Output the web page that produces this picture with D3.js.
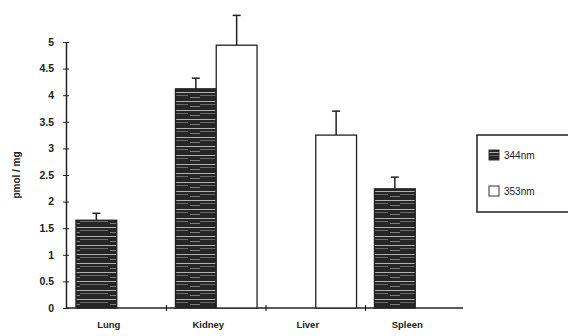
<!DOCTYPE html>
<html>
<head>
<meta charset="utf-8">
<script src="https://cdn.jsdelivr.net/npm/d3@7"></script>
<style>
  body { margin: 0; background: #fff; }
  text { font-family: "Liberation Sans", Arial, sans-serif; font-weight: bold; fill: #222; }
</style>
</head>
<body>
<div id="chart"></div>
<script>
// organs on the x axis
const organs = ["Lung", "Kidney", "Liver", "Spleen"];
// wavelengths (series)
const series = ["344nm", "353nm"];
// mean values, null where no bar was drawn
const values344 = [1.65, 4.12, null, 2.24];
const values353 = [null, 4.94, 3.25, null];
// upper end of the error bars
const err344 = [1.78, 4.32, null, 2.46];
const err353 = [null, 5.5, 3.7, null];
const yTicks = [0, 0.5, 1, 1.5, 2, 2.5, 3, 3.5, 4, 4.5, 5];

const width = 568, height = 336;

let svg = d3.select("#chart").append("svg")
    .attr("width", width)
    .attr("height", height);

// hatch pattern for the dark bars (scanned look: dark with light streaks)
let defs = svg.append("defs");
let pat = defs.append("pattern")
    .attr("id", "hatch")
    .attr("patternUnits", "userSpaceOnUse")
    .attr("width", 40).attr("height", 9);
pat.append("rect").attr("width", 40).attr("height", 9).attr("fill", "#262626");
pat.append("rect").attr("y", 2).attr("width", 40).attr("height", 1).attr("fill", "#b0b0b0");
pat.append("rect").attr("y", 5).attr("width", 28).attr("height", 0.8).attr("fill", "#7a7a7a");
pat.append("rect").attr("x", 30).attr("y", 7).attr("width", 10).attr("height", 0.8).attr("fill", "#909090");

let y = d3.scaleLinear().domain([0, 5]).range([308, 42]);
let x = d3.scaleBand().domain(organs).range([66, 466]).paddingInner(0.18).paddingOuter(0.1);
let xs = d3.scaleBand().domain(series).range([0, x.bandwidth()]);

// y axis
let yAxis = svg.append("g")
    .attr("transform", "translate(66,0)")
    .call(d3.axisLeft(y).tickValues(yTicks).tickSize(3).tickSizeOuter(0)
        .tickFormat(d => d));
yAxis.select(".domain").attr("stroke", "#222").attr("stroke-width", 1.5);
yAxis.selectAll(".tick line").attr("stroke", "#222").attr("x2", 3).attr("x1", -3);
yAxis.selectAll(".tick text").attr("x", -12).style("font-size", "10.5px");

// y label
svg.append("text")
    .attr("transform", "translate(20,175) rotate(-90)")
    .attr("text-anchor", "middle")
    .style("font-size", "10px")
    .text("pmol / mg");

// baseline
svg.append("line")
    .attr("x1", 66).attr("x2", 463)
    .attr("y1", y(0)).attr("y2", y(0))
    .attr("stroke", "#222").attr("stroke-width", 1.5);

// small ticks between groups
let bounds = organs.slice(0, -1).map((d, i) => (x(d) + x.bandwidth() + x(organs[i + 1])) / 2);
svg.selectAll(".btick").data(bounds).join("line")
    .attr("x1", d => d).attr("x2", d => d)
    .attr("y1", y(0) - 3).attr("y2", y(0) + 3)
    .attr("stroke", "#222").attr("stroke-width", 1.2);

// bar data
let bars = [];
organs.forEach((o, i) => {
    if (values344[i] != null) bars.push({organ: o, s: "344nm", v: values344[i], e: err344[i]});
    if (values353[i] != null) bars.push({organ: o, s: "353nm", v: values353[i], e: err353[i]});
});

let barG = svg.append("g");
barG.selectAll("rect").data(bars).join("rect")
    .attr("x", d => x(d.organ) + xs(d.s))
    .attr("y", d => y(d.v))
    .attr("width", xs.bandwidth())
    .attr("height", d => y(0) - y(d.v))
    .attr("fill", d => d.s == "344nm" ? "url(#hatch)" : "#fff")
    .attr("stroke", "#222")
    .attr("stroke-width", 1.3);

// error bars
let errG = svg.append("g").attr("stroke", "#222").attr("stroke-width", 1.5);
errG.selectAll(".stem").data(bars).join("line")
    .attr("x1", d => x(d.organ) + xs(d.s) + xs.bandwidth() / 2)
    .attr("x2", d => x(d.organ) + xs(d.s) + xs.bandwidth() / 2)
    .attr("y1", d => y(d.v))
    .attr("y2", d => y(d.e));
errG.selectAll(".cap").data(bars).join("line")
    .attr("x1", d => x(d.organ) + xs(d.s) + xs.bandwidth() / 2 - 4)
    .attr("x2", d => x(d.organ) + xs(d.s) + xs.bandwidth() / 2 + 4)
    .attr("y1", d => y(d.e))
    .attr("y2", d => y(d.e));

// category labels
svg.selectAll(".cat").data(organs).join("text")
    .attr("x", d => x(d) + x.bandwidth() / 2 - 8)
    .attr("y", 328)
    .attr("text-anchor", "middle")
    .style("font-size", "9.5px")
    .text(d => d);

// legend
let leg = svg.append("g");
leg.append("rect")
    .attr("x", 477).attr("y", 135)
    .attr("width", 100).attr("height", 77)
    .attr("fill", "#fff").attr("stroke", "#222").attr("stroke-width", 1.5);
let items = leg.selectAll(".item").data(series).join("g")
    .attr("transform", (d, i) => "translate(489," + (150 + i * 36) + ")");
items.append("rect")
    .attr("width", 10).attr("height", 10)
    .attr("fill", d => d == "344nm" ? "url(#hatch)" : "#fff")
    .attr("stroke", "#333").attr("stroke-width", 1);
items.append("text")
    .attr("x", 15).attr("y", 9)
    .style("font-size", "10px")
    .style("font-weight", "normal")
    .text(d => d);
</script>
</body>
</html>
